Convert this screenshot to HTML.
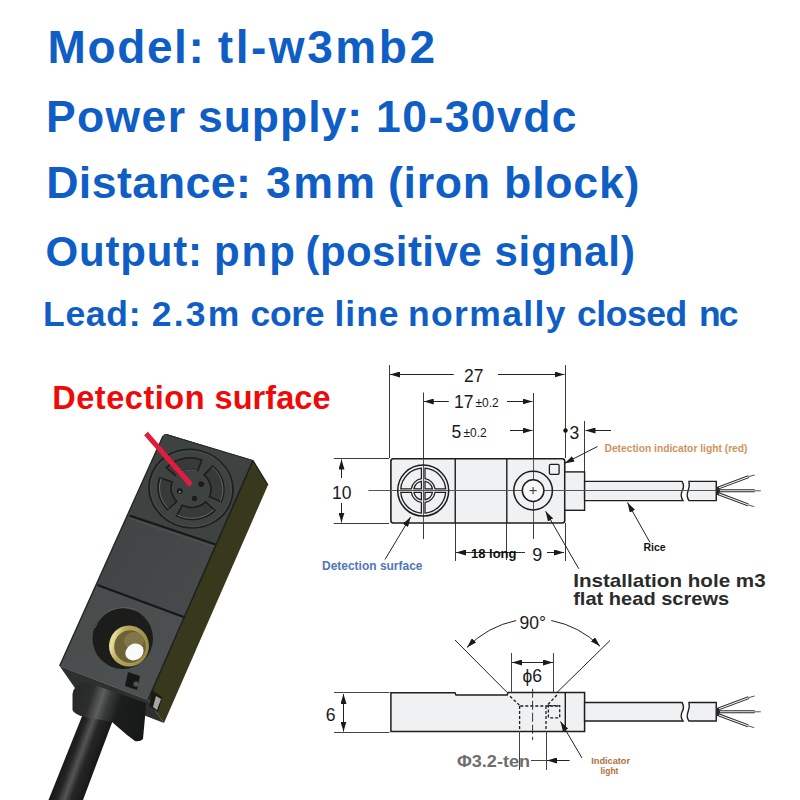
<!DOCTYPE html>
<html><head><meta charset="utf-8">
<style>
html,body{margin:0;padding:0;background:#fff;width:800px;height:800px;overflow:hidden}
svg{position:absolute;left:0;top:0;display:block}
.t{font-family:"Liberation Sans",sans-serif;font-weight:bold}
.r{font-family:"Liberation Sans",sans-serif}
</style></head><body>
<svg width="800" height="800" viewBox="0 0 800 800">
<defs>
<marker id="ah" viewBox="0 0 10 6" refX="10" refY="3" markerWidth="10" markerHeight="6" markerUnits="userSpaceOnUse" orient="auto-start-reverse"><path d="M0 0 L10 3 L0 6 Z" fill="#1a1a1a"/></marker>
</defs>
<!-- headline text -->
<g class="t">
<text x="47.50" y="63.0" font-size="46.0" fill="#0f5ec5" textLength="156.30" lengthAdjust="spacing">Model:</text>
<text x="217.80" y="63.0" font-size="46.0" fill="#0f5ec5" textLength="217.20" lengthAdjust="spacing">tl-w3mb2</text>
<text x="46.00" y="131.8" font-size="44.5" fill="#0f5ec5" textLength="139.00" lengthAdjust="spacing">Power</text>
<text x="198.00" y="131.8" font-size="44.5" fill="#0f5ec5" textLength="164.00" lengthAdjust="spacing">supply:</text>
<text x="376.00" y="131.8" font-size="44.5" fill="#0f5ec5" textLength="200.60" lengthAdjust="spacing">10-30vdc</text>
<text x="46.15" y="197.9" font-size="44.7" fill="#0f5ec5" textLength="204.75" lengthAdjust="spacing">Distance:</text>
<text x="266.10" y="197.9" font-size="44.7" fill="#0f5ec5" textLength="108.90" lengthAdjust="spacing">3mm</text>
<text x="388.00" y="197.9" font-size="44.7" fill="#0f5ec5" textLength="102.00" lengthAdjust="spacing">(iron</text>
<text x="504.10" y="197.9" font-size="44.7" fill="#0f5ec5" textLength="135.30" lengthAdjust="spacing">block)</text>
<text x="45.50" y="265.5" font-size="42.0" fill="#0f5ec5" textLength="156.50" lengthAdjust="spacing">Output:</text>
<text x="214.10" y="265.5" font-size="42.0" fill="#0f5ec5" textLength="80.70" lengthAdjust="spacing">pnp</text>
<text x="305.50" y="265.5" font-size="42.0" fill="#0f5ec5" textLength="176.10" lengthAdjust="spacing">(positive</text>
<text x="494.40" y="265.5" font-size="42.0" fill="#0f5ec5" textLength="140.50" lengthAdjust="spacing">signal)</text>
<text x="43.00" y="325.6" font-size="35.5" fill="#0f5ec5" textLength="97.50" lengthAdjust="spacing">Lead:</text>
<text x="151.75" y="325.6" font-size="35.5" fill="#0f5ec5" textLength="87.50" lengthAdjust="spacing">2.3m</text>
<text x="250.50" y="325.6" font-size="35.5" fill="#0f5ec5" textLength="74.00" lengthAdjust="spacing">core</text>
<text x="334.50" y="325.6" font-size="35.5" fill="#0f5ec5" textLength="64.00" lengthAdjust="spacing">line</text>
<text x="408.00" y="325.6" font-size="35.5" fill="#0f5ec5" textLength="157.60" lengthAdjust="spacing">normally</text>
<text x="577.00" y="325.6" font-size="35.5" fill="#0f5ec5" textLength="110.25" lengthAdjust="spacing">closed</text>
<text x="699.00" y="325.6" font-size="35.5" fill="#0f5ec5" textLength="39.60" lengthAdjust="spacing">nc</text>
<text x="52.25" y="409.4" font-size="32.5" fill="#ef0a0a" textLength="152.25" lengthAdjust="spacing">Detection</text>
<text x="214.60" y="409.4" font-size="32.5" fill="#ef0a0a" textLength="115.90" lengthAdjust="spacing">surface</text>
</g>
<!-- ===== top diagram ===== -->
<g id="diag1" stroke="#2a2a2a" stroke-width="1" fill="none">
<path d="M389.5 365 V458 M423.5 392.5 V539 M533.5 393 V539 M565.5 365 V458 M565.5 523 V561 M584.5 421 V472 M455.5 523 V561 M506.5 523 V560 M333.75 458.5 H389 M333.75 523.5 H389" stroke="#3a3a3a"/>
<rect x="390.9" y="458.75" width="173.85" height="64.25" rx="2.5" fill="#f0f1f2" stroke="#1e1e1e" stroke-width="1.6"/>
<path d="M455.25 458.75 V523 M506.8 458.75 V523" stroke="#1e1e1e" stroke-width="1.4"/>
<rect x="564.75" y="471.9" width="19.85" height="38.4" fill="#f0f1f2" stroke="#1e1e1e" stroke-width="1.4"/>
<path d="M584.6 481.4 H682 Q685 486 682 491 Q680 496 683 500.6 H584.6 Z" fill="#f0f1f2" stroke="#1e1e1e" stroke-width="1.4"/>
<path d="M689 481.4 H716.25 V500.6 H689 Q686 496 688 491 Q690 486 689 481.4 Z" fill="#f0f1f2" stroke="#1e1e1e" stroke-width="1.4"/>
<path d="M368.4 490.5 H716 M423.5 458.75 V523 M533.5 458.75 V523" stroke="#555" stroke-width="1"/>
<g stroke-linecap="butt">
<path d="M716.5 488.6 L748.6 476.6 M717 490.8 H754.7 M716.5 493.0 L748.1 504.9" stroke="#2a2a2a" stroke-width="3"/>
<path d="M719 487.7 L748.4 476.7 M720 490.8 H754.5 M719 493.9 L747.9 504.8" stroke="#f4f4f4" stroke-width="1.1"/>
<path d="M748.6 476.6 L754.7 475.0 M754.7 490.8 H760.8 M748.1 504.9 L754.2 506.6" stroke="#555" stroke-width="1"/>
</g>
<circle cx="423.2" cy="490.6" r="25.5" stroke="#1e1e1e" stroke-width="1.5"/>
<g stroke="#1e1e1e" stroke-width="1.25">
<path d="M425.00 468.17 A22.5 22.5 0 0 1 445.63 488.80 L435.06 488.80 A12 12 0 0 0 425.00 478.74 Z"/>
<path d="M421.40 468.17 A22.5 22.5 0 0 0 400.77 488.80 L411.34 488.80 A12 12 0 0 1 421.40 478.74 Z"/>
<path d="M425.00 513.03 A22.5 22.5 0 0 0 445.63 492.40 L435.06 492.40 A12 12 0 0 1 425.00 502.46 Z"/>
<path d="M421.40 513.03 A22.5 22.5 0 0 1 400.77 492.40 L411.34 492.40 A12 12 0 0 0 421.40 502.46 Z"/>
<path d="M425.00 481.37 A9.4 9.4 0 0 1 432.43 488.80 L425.00 488.80 Z"/>
<path d="M421.40 481.37 A9.4 9.4 0 0 0 413.97 488.80 L421.40 488.80 Z"/>
<path d="M425.00 499.83 A9.4 9.4 0 0 0 432.43 492.40 L425.00 492.40 Z"/>
<path d="M421.40 499.83 A9.4 9.4 0 0 1 413.97 492.40 L421.40 492.40 Z"/>
</g>
<circle cx="533.1" cy="490.6" r="19.3" stroke="#1e1e1e" stroke-width="1.5"/>
<circle cx="533.1" cy="490.6" r="10.8" fill="#f7f7f7" stroke="#1e1e1e" stroke-width="1.5"/>
<path d="M529.5 490.6 H536.7 M533.1 487 V494.2" stroke="#333"/>
<rect x="549.4" y="464.4" width="9.7" height="9.9" rx="1.2" stroke="#1e1e1e" stroke-width="1.3"/>
<path d="M390 374.5 H453.75" marker-start="url(#ah)" stroke="#222"/>
<path d="M498 374.5 H564.5" marker-end="url(#ah)" stroke="#222"/>
<path d="M423.75 401.5 H448.75" marker-start="url(#ah)" stroke="#222"/>
<path d="M507 401.5 H532.5" marker-end="url(#ah)" stroke="#222"/>
<path d="M510 430.5 H532.5" marker-end="url(#ah)" stroke="#222"/>
<path d="M611 430.5 H585.5" marker-end="url(#ah)" stroke="#222"/>
<path d="M341.5 478 V459.5" marker-end="url(#ah)" stroke="#222"/>
<path d="M341.5 503 V522.5" marker-end="url(#ah)" stroke="#222"/>
<path d="M525 552.5 H456" marker-end="url(#ah)" stroke="#333"/>
<path d="M547 552.5 H564" marker-end="url(#ah)" stroke="#222"/>
<path d="M597.5 446.5 L564.4 463.4" marker-end="url(#ah)" stroke="#222"/>
<path d="M385 559.5 L410.6 516.9" marker-end="url(#ah)" stroke="#222"/>
<path d="M578.75 568.75 L545.6 511.25" marker-end="url(#ah)" stroke="#222"/>
<path d="M650 542.5 L627.5 502.5" marker-end="url(#ah)" stroke="#222"/>
</g>
<circle cx="565.5" cy="430.5" r="2.2" fill="#111"/>
<g class="r" fill="#1a1a1a">
<text x="464" y="381.5" font-size="17.5">27</text>
<text x="454" y="408" font-size="17.5">17</text><text x="475.5" y="407" font-size="12">±0.2</text>
<text x="451.5" y="437.5" font-size="17.5">5</text><text x="463.5" y="436.5" font-size="12">±0.2</text>
<text x="569.5" y="438.5" font-size="17.5">3</text>
<text x="332" y="499" font-size="17.5">10</text>
<text x="532.3" y="560.5" font-size="18">9</text>
</g>
<text class="t" x="471" y="557.5" font-size="13" fill="#111">18 long</text>
<text class="t" x="643.5" y="550.6" font-size="10.5" fill="#111">Rice</text>
<text class="t" x="604.5" y="452" font-size="10.5" fill="#cf935e" textLength="143" lengthAdjust="spacingAndGlyphs">Detection indicator light (red)</text>
<text class="t" x="322" y="570" font-size="12.5" fill="#4f76b9" textLength="100.5" lengthAdjust="spacingAndGlyphs">Detection surface</text>
<g class="t" fill="#2b2b2b">
<text x="573.2" y="586.7" font-size="19" textLength="192.5" lengthAdjust="spacingAndGlyphs">Installation hole m3</text>
<text x="573.2" y="604.8" font-size="19" textLength="156" lengthAdjust="spacingAndGlyphs">flat head screws</text>
</g>
<!-- ===== bottom diagram ===== -->
<g id="diag2" stroke="#2a2a2a" stroke-width="1" fill="none">
<path d="M334 692.5 H389.4 M334 732.5 H389.4" stroke="#444"/>
<path d="M390.9 692.75 H455 L456 695 H507.2 L508 692.5 H584.6 V731.4 H390.9 Z" fill="#f0f1f2" stroke="#1e1e1e" stroke-width="1.5"/>
<path d="M565.3 692.5 V731.4" stroke="#1e1e1e" stroke-width="1.4"/>
<path d="M584.6 702.5 H682 Q685 707 682 712 Q680 717 683 721 H584.6 Z" fill="#f0f1f2" stroke="#1e1e1e" stroke-width="1.4"/>
<path d="M689 702.5 H716.25 V721 H689 Q686 717 688 712 Q690 707 689 702.5 Z" fill="#f0f1f2" stroke="#1e1e1e" stroke-width="1.4"/>
<g stroke-linecap="butt">
<path d="M716.5 709.6 L748.6 697.6 M717 711.8 H754.7 M716.5 714.0 L748.1 725.9" stroke="#2a2a2a" stroke-width="3"/>
<path d="M719 708.7 L748.4 697.7 M720 711.8 H754.5 M719 714.9 L747.9 725.8" stroke="#f4f4f4" stroke-width="1.1"/>
<path d="M748.6 697.6 L754.7 696.0 M754.7 711.8 H760.8 M748.1 725.9 L754.2 727.6" stroke="#555" stroke-width="1"/>
</g>
<path d="M455 640 L507.2 692.5 M610 640.5 L556.9 692.5" stroke="#222"/>
<path d="M516.25 620.5 A96.2 96.2 0 0 0 467 647.5" marker-end="url(#ah)" stroke="#222"/>
<path d="M551.25 620.5 A96.2 96.2 0 0 1 600 646.25" marker-end="url(#ah)" stroke="#222"/>
<path d="M511.5 653 V692.5 M553.5 653 V692.5" stroke="#444"/>
<path d="M532 662.5 H512" marker-end="url(#ah)" stroke="#222"/>
<path d="M532 662.5 H553" marker-end="url(#ah)" stroke="#222"/>
<g stroke="#1e1e1e" stroke-width="1.3" stroke-dasharray="3 2">
<path d="M510 696.25 L520.3 706 M556.9 695 L546.6 706 M520.3 706 H558.75 M519.6 706 V731 M546 706 V731"/>
<rect x="548.4" y="705.6" width="11.3" height="12.2"/>
</g>
<path d="M532.6 688.75 V740" stroke="#333" stroke-dasharray="9 3"/>
<path d="M519.5 731 V770 M546.5 731 V770" stroke="#444"/>
<path d="M343.5 712 V694" marker-end="url(#ah)" stroke="#222"/>
<path d="M343.5 712 V731.5" marker-end="url(#ah)" stroke="#222"/>
<path d="M531 760.5 H548" stroke="#444"/>
<path d="M569.6 760.5 H547" marker-end="url(#ah)" stroke="#222"/>
<path d="M582 758 L560.5 721.5" marker-end="url(#ah)" stroke="#222"/>
</g>
<g class="r" fill="#1a1a1a">
<text x="519.5" y="629" font-size="17.5">90°</text>
<text x="522.5" y="682.2" font-size="17.5">ϕ6</text>
<text x="325.8" y="721" font-size="17.5">6</text>
</g>
<text class="t" x="457" y="767" font-size="16.5" fill="#6e6e6e" textLength="73" lengthAdjust="spacingAndGlyphs">Φ3.2-ten</text>
<g class="t" fill="#b0703a" font-size="8.5">
<text x="591.25" y="763.75" textLength="38.75" lengthAdjust="spacingAndGlyphs">Indicator</text>
<text x="600.5" y="773.75">light</text>
</g>
<!-- sensor photo -->
<g id="sensor">
<!-- cable -->
<defs><linearGradient id="cab" gradientUnits="userSpaceOnUse" x1="59" y1="764" x2="97" y2="778">
<stop offset="0" stop-color="#121212"/><stop offset="0.25" stop-color="#242424"/><stop offset="0.42" stop-color="#555"/><stop offset="0.58" stop-color="#262626"/><stop offset="1" stop-color="#111"/></linearGradient></defs>
<path d="M82.5 715 L113 720 L83 800 L48.5 800 Z" fill="url(#cab)"/>

<!-- end face -->
<path d="M59.6 666 L148 700 L164 723 L75.6 689 Z" fill="#2e2f2f"/>
<!-- collar -->
<defs><linearGradient id="col" gradientUnits="userSpaceOnUse" x1="72" y1="698" x2="147" y2="722">
<stop offset="0" stop-color="#262727"/><stop offset="0.22" stop-color="#2c2d2d"/><stop offset="0.36" stop-color="#5d5f5f"/><stop offset="0.45" stop-color="#3a3b3b"/><stop offset="0.6" stop-color="#1c1d1d"/><stop offset="1" stop-color="#161717"/></linearGradient></defs>
<path d="M72.5 694 Q74 684 86 682 L146 703 L145 717 L143 739 Q140 742 135 741 L127 735 L112 722 Q98 719 84 717 Q74 714 72.5 710 Z" fill="url(#col)"/>
<!-- right side face -->
<path d="M253 460.5 L268 485 L164 723 L148 700 Z" fill="#37381c"/>
<path d="M253 460.5 L268 485" stroke="#1c1c10" stroke-width="1.2"/>
<!-- front face -->
<defs><linearGradient id="mid" x1="0" y1="0" x2="1" y2="1"><stop offset="0" stop-color="#3b3f3f"/><stop offset="1" stop-color="#4b4f50"/></linearGradient>
<linearGradient id="low" x1="0" y1="0" x2="1" y2="1"><stop offset="0" stop-color="#464a4b"/><stop offset="1" stop-color="#4e5253"/></linearGradient></defs>
<path d="M166.5 434 Q164 433.5 163 436 L59.6 666 L148 700 L253 460.5 Z" fill="url(#mid)"/>
<path d="M166.5 434 Q164 433.5 163 436 L129.5 515.5 L215.5 544.5 L253 460.5 Z" fill="#3e4240"/>
<path d="M95.5 585.5 L185 617.5 L148 700 L59.6 666 Z" fill="url(#low)"/>
<path d="M163 436 L59.6 666" stroke="#252727" stroke-width="1.4"/>
<path d="M129.5 515.5 L215.5 544.5" stroke="#161818" stroke-width="2.2"/>
<path d="M130 518.5 L214.5 547" stroke="#5a5e5e" stroke-width="1" opacity="0.6"/>
<path d="M97.5 585 L185 617.5" stroke="#161818" stroke-width="2.2"/>
<path d="M253 460.5 L148 700" stroke="#1e201e" stroke-width="1.6"/>
<path d="M166 434.5 L253 460.5" stroke="#2a2c2b" stroke-width="1.2"/>
<!-- detection face pattern -->
<g transform="translate(191 488.7) rotate(12) scale(1 0.93)">
<circle r="42" fill="none" stroke="#1d201f" stroke-width="1.8"/>
<circle r="40.6" fill="none" stroke="#5a5e5c" stroke-width="0.7" opacity="0.6"/>
<g fill="#373a39" stroke="#1b1d1c" stroke-width="1.6">
<path d="M4.6 -32.7 A33 33 0 0 0 -28.6 -16.5 L-17.3 -10.0 A20 20 0 0 1 2.8 -19.8 Z"/>
<path d="M32.3 6.9 A33 33 0 0 0 16.5 -28.6 L10.0 -17.3 A20 20 0 0 1 19.6 4.2 Z"/>
<path d="M-8.5 31.9 A33 33 0 0 0 28.0 17.5 L17.0 10.6 A20 20 0 0 1 -5.2 19.3 Z"/>
<path d="M-32.7 -4.6 A33 33 0 0 0 -18.5 27.4 L-11.2 16.6 A20 20 0 0 1 -19.8 -2.8 Z"/>
</g>
<g fill="none" stroke="#7d817f" stroke-width="0.9" opacity="0.7">
<path d="M-17.3 -10.0 A20 20 0 0 1 2.8 -19.8"/>
<path d="M32.3 6.9 A33 33 0 0 0 16.5 -28.6" transform="scale(0.97)"/>
<path d="M-8.5 31.9 A33 33 0 0 0 28.0 17.5" transform="scale(0.96)"/>
<path d="M-32.7 -4.6 A33 33 0 0 0 -18.5 27.4" transform="scale(0.96)"/>
</g>
<circle cx="9" cy="-7" r="3" fill="#1b1d1c"/>
<circle cx="-10.5" cy="5" r="3" fill="#1b1d1c"/>
<circle cx="5.5" cy="9.5" r="2.8" fill="#1b1d1c"/>
<circle cx="-10.3" cy="5.8" r="1" fill="#9a9e9c"/>
</g>
<!-- LED window + notch -->
<path d="M128 672 L140 676 L137 690 L125 686 Z" fill="#151716"/>
<circle cx="136" cy="684" r="2.6" fill="#4d5a46"/>
<path d="M152 690 L162 697 L158 712 L149 706 Z" fill="#1a1c14"/>
<path d="M156 696 L161 699 L157 710 L153 707 Z" fill="#c9cbc6" opacity="0.8"/>
<!-- screw hole -->
<ellipse cx="122.75" cy="638.5" rx="30.25" ry="30.5" fill="#1c1c1a"/>
<path d="M95 628 A30 30 0 0 1 135 610" stroke="#6a6d6c" stroke-width="1" fill="none" opacity="0.7"/>
<defs><linearGradient id="brass" x1="0" y1="0" x2="1" y2="0.3"><stop offset="0" stop-color="#c9c07e"/><stop offset="0.18" stop-color="#e6dc9c"/><stop offset="0.4" stop-color="#b5a85c"/><stop offset="1" stop-color="#9a8c45"/></linearGradient></defs>
<ellipse cx="129" cy="646" rx="20" ry="20.5" fill="url(#brass)"/>
<ellipse cx="130" cy="646.5" rx="15.8" ry="16.2" fill="#6c6236"/>
<ellipse cx="134" cy="641" rx="10" ry="9" fill="#93875a" opacity="0.55"/>
<ellipse cx="134.5" cy="652" rx="9.5" ry="8" fill="#fafafa" transform="rotate(-30 134.5 652)"/>
<!-- red pointer -->
<path d="M146 433.5 L191 485" stroke="#e31c3d" stroke-width="5" stroke-linecap="butt"/>
</g>
</svg>
</body></html>
